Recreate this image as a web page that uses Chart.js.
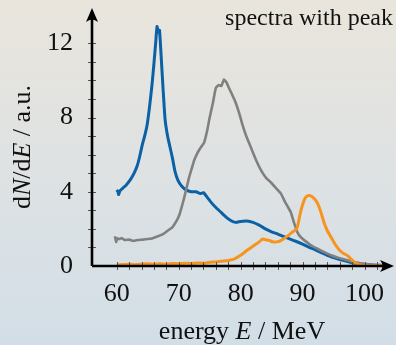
<!DOCTYPE html>
<html>
<head>
<meta charset="utf-8">
<script src="https://cdn.jsdelivr.net/npm/chart.js@4.4.0/dist/chart.umd.min.js"></script>
<style>
  html, body { margin: 0; padding: 0; }
  body { width: 396px; height: 345px; background: linear-gradient(to bottom, #e9e5dc 0%, #dee2e3 50%, #d2dee7 100%); overflow: hidden; }
  #wrap { position: relative; width: 396px; height: 345px; }
</style>
</head>
<body>
<div id="wrap"><canvas id="spectraChart"></canvas></div>
<script>
// blue spectrum (narrow peak near 66 MeV)
const blueE = [60.0, 60.2, 60.3, 60.5, 61.0, 61.5, 62.2, 62.8, 63.3, 63.7, 64.1, 64.5, 64.9, 65.3, 65.7, 66.0, 66.3, 66.5, 66.7, 66.9, 67.2, 67.5, 67.8, 68.2, 68.6, 69.0, 69.4, 69.9, 70.5, 71.2, 72.0, 72.8, 73.5, 74.0, 74.6, 75.3, 76.0, 76.8, 77.6, 78.4, 79.2, 80.0, 81.0, 82.0, 83.0, 84.0, 85.0, 86.0, 87.0, 88.0, 89.0, 90.0, 91.0, 92.0, 93.0, 94.0, 95.0, 96.0, 97.0, 98.0, 99.0, 100.0, 101.0, 102.0, 103.0];
const blueN = [4.1, 4.0, 3.85, 4.05, 4.2, 4.35, 4.65, 5.0, 5.4, 5.9, 6.5, 7.0, 7.6, 8.6, 9.8, 10.9, 12.1, 12.9, 12.6, 12.7, 11.1, 9.4, 7.9, 7.0, 6.4, 5.8, 5.1, 4.6, 4.3, 4.1, 4.0, 4.0, 3.9, 3.95, 3.7, 3.4, 3.15, 2.9, 2.65, 2.45, 2.35, 2.4, 2.42, 2.35, 2.2, 2.0, 1.84, 1.72, 1.58, 1.45, 1.32, 1.18, 1.02, 0.88, 0.72, 0.58, 0.45, 0.35, 0.26, 0.18, 0.12, 0.08, 0.05, 0.03, 0.02];

// grey spectrum (broad peak near 77 MeV)
const greyE = [59.7, 59.9, 60.1, 60.4, 60.8, 61.3, 62.0, 62.7, 63.4, 64.2, 65.0, 65.8, 66.6, 67.4, 68.2, 69.0, 69.6, 70.1, 70.5, 70.9, 71.3, 71.7, 72.1, 72.5, 72.9, 73.3, 73.7, 74.1, 74.6, 75.0, 75.5, 76.0, 76.5, 76.9, 77.3, 77.7, 78.1, 78.6, 79.2, 79.8, 80.3, 80.9, 81.4, 82.0, 82.5, 83.3, 84.1, 84.9, 85.7, 86.5, 87.1, 87.6, 88.1, 88.6, 89.2, 89.7, 90.3, 91.3, 92.4, 93.5, 94.6, 95.6, 96.7, 97.8, 98.9, 100.0, 101.0, 102.0, 103.1];
const greyN = [1.6, 1.3, 1.5, 1.45, 1.5, 1.4, 1.42, 1.35, 1.4, 1.42, 1.45, 1.5, 1.6, 1.7, 1.9, 2.1, 2.4, 2.75, 3.2, 3.7, 4.25, 4.8, 5.25, 5.7, 6.0, 6.25, 6.45, 6.65, 7.3, 8.0, 8.75, 9.6, 9.75, 9.7, 10.05, 9.9, 9.6, 9.25, 8.8, 8.2, 7.6, 7.0, 6.6, 6.1, 5.7, 5.15, 4.75, 4.5, 4.2, 3.9, 3.5, 3.2, 2.9, 2.35, 1.8, 1.55, 1.38, 1.13, 0.93, 0.75, 0.58, 0.46, 0.36, 0.26, 0.18, 0.12, 0.09, 0.06, 0.05];

// orange spectrum (peak near 91 MeV)
const orangeE = [60.0, 61.0, 62.0, 63.0, 64.0, 65.0, 66.0, 67.0, 68.0, 69.0, 70.0, 71.0, 72.0, 73.0, 74.0, 75.0, 76.0, 77.0, 78.0, 78.8, 79.5, 80.3, 81.1, 81.8, 82.5, 83.0, 83.5, 84.0, 84.6, 85.2, 85.8, 86.4, 87.0, 87.6, 88.1, 88.6, 89.0, 89.3, 89.6, 90.0, 90.4, 90.8, 91.1, 91.5, 91.9, 92.3, 92.7, 93.1, 93.5, 94.0, 94.6, 95.2, 95.9, 96.6, 97.3, 97.8, 98.3, 98.9, 99.4, 100.0, 101.0, 102.0, 103.0, 104.0];
const orangeN = [0.05, 0.08, 0.1, 0.07, 0.1, 0.12, 0.09, 0.12, 0.1, 0.14, 0.12, 0.15, 0.14, 0.16, 0.15, 0.2, 0.22, 0.26, 0.3, 0.36, 0.48, 0.65, 0.86, 1.02, 1.18, 1.3, 1.45, 1.42, 1.38, 1.3, 1.3, 1.35, 1.48, 1.62, 1.76, 1.88, 1.98, 2.3, 2.8, 3.3, 3.65, 3.78, 3.8, 3.75, 3.62, 3.45, 3.15, 2.75, 2.3, 1.9, 1.55, 1.2, 0.88, 0.68, 0.55, 0.38, 0.22, 0.1, 0.05, 0.03, 0.02, 0.02, 0.02, 0.02];

// axis ticks
const xLabels = [60, 70, 80, 90, 100];
const yLabels = [0, 4, 8, 12];

const SERIF = '"Liberation Serif", "DejaVu Serif", serif';

function pts(xs, ys) {
    return xs.map((x, i) => ({ x: x, y: ys[i] }));
}

// draws text made of several font runs, centred on (x, y)
function drawRuns(ctx, runs, x, y) {
    let total = 0;
    runs.forEach(r => { ctx.font = r.font; total += ctx.measureText(r.text).width; });
    let cx = x - total / 2;
    ctx.textAlign = 'left';
    ctx.textBaseline = 'alphabetic';
    runs.forEach(r => {
        ctx.font = r.font;
        ctx.fillText(r.text, cx, y);
        cx += ctx.measureText(r.text).width;
    });
}

const axesPlugin = {
    id: 'axesPlugin',
    afterDatasetsDraw(chart) {
        const { ctx, chartArea, scales } = chart;
        const xs = scales.x, ys = scales.y;
        const x0 = xs.getPixelForValue(xs.min);
        const y0 = ys.getPixelForValue(0);
        ctx.save();

        // tick marks crossing the axes
        ctx.strokeStyle = '#555';
        ctx.lineWidth = 1;
        ctx.beginPath();
        xs.ticks.forEach(t => {
            if (t.value < 60 || t.value > 102 || t.value % 2 !== 0) return;
            const px = Math.round(xs.getPixelForValue(t.value)) + 0.5;
            ctx.moveTo(px, y0 - 4); ctx.lineTo(px, y0 + 4);
        });
        ys.ticks.forEach(t => {
            if (t.value < 1 || t.value > 13 || t.value % 1 !== 0) return;
            const py = Math.round(ys.getPixelForValue(t.value)) + 0.5;
            ctx.moveTo(x0 - 4, py); ctx.lineTo(x0 + 4, py);
        });
        ctx.stroke();

        // axis lines
        ctx.strokeStyle = '#000';
        ctx.lineWidth = 2.6;
        ctx.beginPath();
        ctx.moveTo(x0, y0); ctx.lineTo(chartArea.right - 4, y0);
        ctx.moveTo(x0, y0); ctx.lineTo(x0, chartArea.top + 4);
        ctx.stroke();

        // arrow heads
        ctx.fillStyle = '#000';
        const r = chartArea.right + 1, t = chartArea.top;
        ctx.beginPath();
        ctx.moveTo(r, y0);
        ctx.lineTo(r - 14, y0 - 6);
        ctx.quadraticCurveTo(r - 9, y0, r - 14, y0 + 6);
        ctx.closePath();
        ctx.fill();
        ctx.beginPath();
        ctx.moveTo(x0, t);
        ctx.lineTo(x0 - 6, t + 14);
        ctx.quadraticCurveTo(x0, t + 9, x0 + 6, t + 14);
        ctx.closePath();
        ctx.fill();

        // texts
        ctx.fillStyle = '#111';
        ctx.font = '24px ' + SERIF;
        ctx.textAlign = 'right';
        ctx.textBaseline = 'alphabetic';
        ctx.fillText('spectra with peak', 393, 25);

        drawRuns(ctx, [
            { text: 'energy ', font: '26px ' + SERIF },
            { text: 'E', font: 'italic 26px ' + SERIF },
            { text: ' / MeV', font: '26px ' + SERIF }
        ], 242, 339);

        ctx.translate(30, 147);
        ctx.rotate(-Math.PI / 2);
        drawRuns(ctx, [
            { text: 'd', font: '26px ' + SERIF },
            { text: 'N', font: 'italic 26px ' + SERIF },
            { text: '/d', font: '26px ' + SERIF },
            { text: 'E', font: 'italic 26px ' + SERIF },
            { text: ' / a.u.', font: '26px ' + SERIF }
        ], 0, 0);
        ctx.restore();
    }
};

new Chart(document.getElementById('spectraChart'), {
    type: 'line',
    data: {
        datasets: [
            { label: 'orange', data: pts(orangeE, orangeN), borderColor: '#f7941d', borderWidth: 3, pointRadius: 0, tension: 0.15 },
            { label: 'grey', data: pts(greyE, greyN), borderColor: '#808080', borderWidth: 2.6, pointRadius: 0, tension: 0.15 },
            { label: 'blue', data: pts(blueE, blueN), borderColor: '#0b61a6', borderWidth: 3, pointRadius: 0, tension: 0.15 }
        ]
    },
    options: {
        responsive: true,
        maintainAspectRatio: false,
        animation: false,
        layout: { padding: { top: 8, right: 3, left: 0, bottom: 0 } },
        plugins: { legend: { display: false }, tooltip: { enabled: false } },
        scales: {
            x: {
                type: 'linear',
                min: 56,
                max: 104.6,
                grid: { display: false, drawTicks: false },
                border: { display: false },
                ticks: {
                    stepSize: 2,
                    autoSkip: false,
                    maxRotation: 0,
                    padding: 13,
                    color: '#111',
                    font: { family: SERIF, size: 26 },
                    callback: v => xLabels.includes(v) ? String(v) : ''
                },
                afterFit: s => { s.height = 79; s.paddingLeft = 0; s.paddingRight = 0; }
            },
            y: {
                min: 0,
                max: 13.9,
                grid: { display: false, drawTicks: false },
                border: { display: false },
                ticks: {
                    stepSize: 1,
                    autoSkip: false,
                    padding: 19,
                    color: '#111',
                    font: { family: SERIF, size: 26 },
                    callback: v => yLabels.includes(v) ? String(v) : ''
                },
                afterFit: s => { s.width = 92; s.paddingTop = 0; s.paddingBottom = 0; }
            }
        }
    },
    plugins: [axesPlugin]
});
</script>
</body>
</html>
